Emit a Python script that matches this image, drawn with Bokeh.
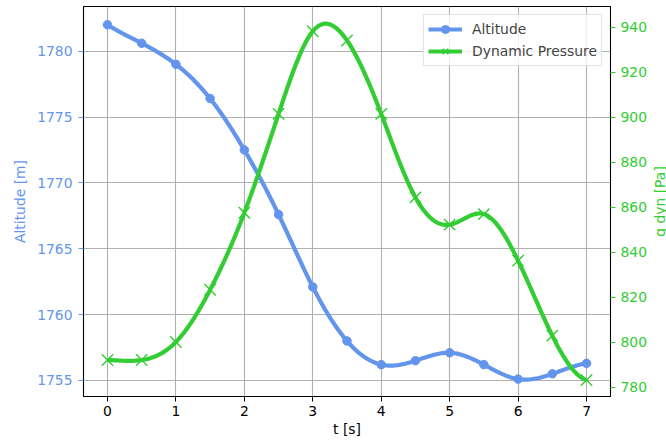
import numpy as np
from bokeh.plotting import figure
from bokeh.models import Range1d, LinearAxis, SingleIntervalTicker, Label
from bokeh.embed import file_html
from bokeh.resources import INLINE

# ---- data ----
t = [0.0, 0.5, 1.0, 1.5, 2.0, 2.5, 3.0, 3.5, 4.0, 4.5, 5.0, 5.5, 6.0, 6.5, 7.0]
altitude = [1782.0, 1780.6, 1779.0, 1776.4, 1772.5, 1767.6, 1762.1, 1758.0,
            1756.2, 1756.5, 1757.1, 1756.2, 1755.1, 1755.5, 1756.3]
q_dyn = [792.2, 792.2, 800.2, 823.4, 857.6, 901.5, 938.2, 934.1,
         901.5, 864.4, 852.3, 857.0, 836.3, 803.0, 783.3]

x_label = "t [s]"
alt_label = "Altitude [m]"
q_label = "q dyn [Pa]"
alt_name = "Altitude"
q_name = "Dynamic Pressure"

BLUE = "#6495ED"
GREEN = "#32CD32"
FONT = "DejaVu Sans"
FS = "13.9px"


def smooth(x, y, n=400):
    """Not-a-knot cubic spline through the data points (for drawing the curve)."""
    x = np.asarray(x, float)
    y = np.asarray(y, float)
    N = len(x)
    h = np.diff(x)
    A = np.zeros((N, N))
    b = np.zeros(N)
    A[0, 0], A[0, 1], A[0, 2] = h[1], -(h[0] + h[1]), h[0]
    for i in range(1, N - 1):
        A[i, i - 1] = h[i - 1]
        A[i, i] = 2 * (h[i - 1] + h[i])
        A[i, i + 1] = h[i]
        b[i] = 6 * ((y[i + 1] - y[i]) / h[i] - (y[i] - y[i - 1]) / h[i - 1])
    A[-1, -3], A[-1, -2], A[-1, -1] = h[-1], -(h[-2] + h[-1]), h[-2]
    M = np.linalg.solve(A, b)
    xs = np.linspace(x[0], x[-1], n)
    idx = np.clip(np.searchsorted(x, xs) - 1, 0, N - 2)
    x0, x1 = x[idx], x[idx + 1]
    hh = x1 - x0
    ys = (M[idx] * (x1 - xs) ** 3 / (6 * hh) + M[idx + 1] * (xs - x0) ** 3 / (6 * hh)
          + (y[idx] / hh - M[idx] * hh / 6) * (x1 - xs)
          + (y[idx + 1] / hh - M[idx + 1] * hh / 6) * (xs - x0))
    return xs, ys


p = figure(width=666, height=443, output_backend="svg", toolbar_location=None,
           x_range=Range1d(-0.35, 7.35), y_range=Range1d(1753.78, 1783.39),
           min_border_left=83, min_border_right=55, min_border_top=6, min_border_bottom=47)
p.title.visible = False
p.extra_y_ranges = {"q": Range1d(776.0, 949.2)}

p.outline_line_color = "black"
p.outline_line_width = 1.1
p.background_fill_color = "white"
p.border_fill_color = "white"

# grid
for g in (p.xgrid, p.ygrid):
    g.grid_line_color = "#b0b0b0"
    g.grid_line_width = 1.1

# x axis
xa = p.xaxis[0]
xa.ticker = SingleIntervalTicker(interval=1)
xa.axis_label = x_label
xa.axis_line_color = "black"
xa.major_tick_out = 5
xa.major_tick_in = 0
xa.minor_tick_line_color = None
xa.major_label_standoff = 4
xa.axis_label_standoff = 2
xa.major_label_text_font = FONT
xa.major_label_text_font_size = FS
xa.major_label_text_color = "black"
xa.axis_label_text_font = FONT
xa.axis_label_text_font_size = FS
xa.axis_label_text_font_style = "normal"
xa.axis_label_text_color = "black"

# left axis
ya = p.yaxis[0]
ya.ticker = SingleIntervalTicker(interval=5)
ya.axis_label = alt_label
ya.axis_line_color = "black"
ya.major_tick_out = 5
ya.major_tick_in = 0
ya.minor_tick_line_color = None
ya.major_tick_line_color = BLUE
ya.major_label_standoff = 6
ya.axis_label_standoff = 6
ya.major_label_text_font = FONT
ya.major_label_text_font_size = FS
ya.major_label_text_color = BLUE
ya.axis_label_text_font = FONT
ya.axis_label_text_font_size = FS
ya.axis_label_text_font_style = "normal"
ya.axis_label_text_color = BLUE

# right axis
ra = LinearAxis(y_range_name="q", ticker=SingleIntervalTicker(interval=20))
ra.axis_line_color = "black"
ra.major_tick_out = 5
ra.major_tick_in = 0
ra.minor_tick_line_color = None
ra.major_tick_line_color = GREEN
ra.major_label_standoff = 5
ra.major_label_text_font = FONT
ra.major_label_text_font_size = FS
ra.major_label_text_color = GREEN
p.add_layout(ra, "right")

# right axis title, read bottom-to-top, placed in its own side panel
p.add_layout(Label(x=9, y=195, x_units="screen", y_units="screen", text=q_label,
                   angle=np.pi / 2, text_align="center", text_baseline="middle",
                   text_font=FONT, text_font_size=FS, text_color=GREEN), "right")

# altitude series
ax_, ay_ = smooth(t, altitude)
p.line(ax_, ay_, line_color=BLUE, line_width=4.2, legend_label=alt_name)
p.scatter(t, altitude, marker="circle", size=8.5, fill_color=BLUE, line_color=BLUE,
          legend_label=alt_name)

# dynamic pressure series
qx_, qy_ = smooth(t, q_dyn)
p.line(qx_, qy_, line_color=GREEN, line_width=4.2, y_range_name="q", legend_label=q_name)
p.scatter(t, q_dyn, marker="x", size=16, line_color=GREEN, line_width=1.4,
          y_range_name="q", legend_label=q_name)

lg = p.legend[0]
lg.location = "top_right"
lg.margin = 8
lg.padding = 4
lg.spacing = 2
lg.glyph_width = 34
lg.glyph_height = 20
lg.label_height = 20
lg.label_standoff = 10
lg.label_text_font = FONT
lg.label_text_font_size = FS
lg.border_line_color = "#cccccc"
lg.border_line_width = 1
lg.background_fill_color = "white"
lg.background_fill_alpha = 0.8

open("out.html", "w").write(file_html(p, INLINE))
